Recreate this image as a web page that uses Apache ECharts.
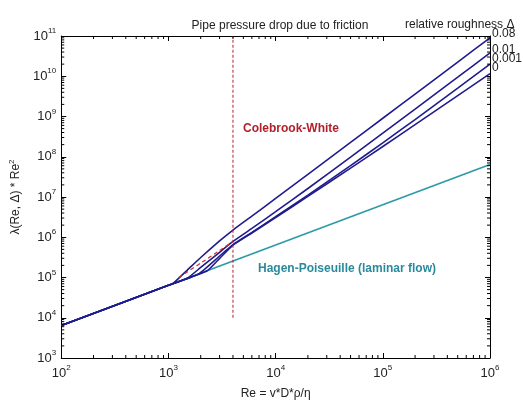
<!DOCTYPE html>
<html>
<head>
<meta charset="utf-8">
<script src="https://cdn.jsdelivr.net/npm/echarts@6/dist/echarts.min.js"></script>
<style>
  html, body { margin: 0; padding: 0; background: #fff; }
  #chart { width: 523px; height: 405px; }
</style>
</head>
<body>
<div id="chart"></div>
<script>
// Reynolds numbers and lambda*Re^2 values for each relative roughness
const laminarRe = [100, 1e6];
const laminarVal = [6.4e3, 6.4e7];

const re008 = [100, 1000, 1100, 1500, 2000, 3000, 4000, 6000, 1e4, 2e4, 5e4, 1e5, 2e5, 5e5, 1e6];
const val008 = [6.4e3, 6.4e4, 7.04e4, 1.53e5, 3.14e5, 8.1e5, 1.513e6, 3.353e6, 9.2e6, 3.643e7, 2.263e8, 9.04e8, 3.61e9, 2.255e10, 9.02e10];

const re001 = [100, 1000, 1500, 2000, 3000, 4000, 6000, 1e4, 2e4, 5e4, 1e5, 2e5, 5e5, 1e6];
const val001 = [6.4e3, 6.4e4, 9.6e4, 1.78e5, 4.23e5, 7.86e5, 1.654e6, 4.31e6, 1.628e7, 9.77e7, 3.85e8, 1.528e9, 9.51e9, 3.8e10];

const re0001 = [100, 1000, 1900, 3000, 4000, 6000, 1e4, 2e4, 5e4, 1e5, 2e5, 5e5, 1e6];
const val0001 = [6.4e3, 6.4e4, 1.216e5, 3.42e5, 6.55e5, 1.32e6, 3.24e6, 1.118e7, 6.0e7, 2.217e8, 8.41e8, 5.06e9, 1.994e10];

const reSmooth = [100, 1000, 2300, 3000, 4000, 6000, 1e4, 2e4, 5e4, 1e5, 2e5, 5e5, 1e6];
const valSmooth = [6.4e3, 6.4e4, 1.472e5, 2.98e5, 6.38e5, 1.278e6, 3.09e6, 1.035e7, 5.22e7, 1.8e8, 6.26e8, 3.29e9, 1.165e10];

// Colebrook-White continued into the transition range
const reCw = [1250, 1500, 2000, 3000, 4000];
const valCw = [1.006e5, 1.378e5, 2.27e5, 4.67e5, 7.86e5];

// critical Reynolds number marker
const reCrit = [4000, 4000];
const valCrit = [1e4, 1e11];

const roughnessNames = ['0.08', '0.01', '0.001', '0'];
const labelOffsets = [-4, -3, -5, -6];

const xMin = 1e2, xMax = 1e6, yMin = 1e3, yMax = 1e11;

function pairs(xs, ys) { return xs.map((x, i) => [x, ys[i]]); }

// minor tick positions (2..9 within each decade)
function minorTicks(lo, hi) {
  const out = [];
  for (let d = lo; d < hi; d *= 10) {
    for (let m = 2; m <= 9; m++) out.push(m * d);
  }
  return out;
}
const xMinor = minorTicks(xMin, xMax);
const yMinor = minorTicks(yMin, yMax);

const font = 'Liberation Sans, Arial, sans-serif';
const textColor = '#222';
const blue = '#1f1c8e';

function powLabel(v) {
  const e = Math.round(Math.log10(v));
  return '{b|10}{s|' + e + '}';
}
const powRich = {
  b: { fontSize: 13, fontFamily: font, color: textColor, lineHeight: 18 },
  s: { fontSize: 8, fontFamily: font, color: textColor, lineHeight: 10, verticalAlign: 'top' }
};

const chart = echarts.init(document.getElementById('chart'), null, { renderer: 'canvas' });

const blueSets = [[re008, val008], [re001, val001], [re0001, val0001], [reSmooth, valSmooth]];

const blueSeries = blueSets.map((s, i) => ({
  name: roughnessNames[i],
  type: 'line',
  data: pairs(s[0], s[1]),
  showSymbol: false,
  symbol: 'none',
  smooth: 0.15,
  lineStyle: { color: blue, width: 1.6 },
  z: 4,
  endLabel: {
    show: true,
    formatter: '{a}',
    color: textColor,
    fontFamily: font,
    fontSize: 12,
    distance: 2,
    offset: [0, labelOffsets[i]]
  },
  silent: true
}));

const option = {
  animation: false,
  backgroundColor: '#fff',
  grid: { left: 61, right: 33, top: 36, bottom: 41 },
  xAxis: [
    {
      type: 'log', logBase: 10, min: xMin, max: xMax,
      name: 'Re = v*D*\u03c1/\u03b7', nameLocation: 'middle', nameGap: 30,
      nameTextStyle: { fontFamily: font, fontSize: 12, color: textColor },
      axisLine: { lineStyle: { color: '#000', width: 1 } },
      axisTick: { inside: true, length: 5, lineStyle: { color: '#000' } },
      axisLabel: { formatter: powLabel, rich: powRich, margin: 6 },
      splitLine: { show: false }
    },
    {
      type: 'log', logBase: 10, min: xMin, max: xMax, position: 'top',
      axisLine: { lineStyle: { color: '#000', width: 1 } },
      axisTick: { inside: true, length: 5, lineStyle: { color: '#000' } },
      axisLabel: { show: false },
      splitLine: { show: false }
    }
  ],
  yAxis: [
    {
      type: 'log', logBase: 10, min: yMin, max: yMax,
      name: '{t|\u03bb(Re, \u0394) * Re}{s|2}', nameLocation: 'middle', nameGap: 28,
      nameRotate: 90,
      nameTextStyle: {
        rich: {
          t: { fontFamily: font, fontSize: 12, color: textColor, lineHeight: 16 },
          s: { fontFamily: font, fontSize: 8, color: textColor, lineHeight: 10, verticalAlign: 'top' }
        }
      },
      axisLine: { lineStyle: { color: '#000', width: 1 } },
      axisTick: { inside: true, length: 5, lineStyle: { color: '#000' } },
      axisLabel: { formatter: powLabel, rich: powRich, margin: 5 },
      splitLine: { show: false }
    },
    {
      type: 'log', logBase: 10, min: yMin, max: yMax, position: 'right',
      axisLine: { lineStyle: { color: '#000', width: 1 } },
      axisTick: { inside: true, length: 5, lineStyle: { color: '#000' } },
      axisLabel: { show: false },
      splitLine: { show: false }
    }
  ],
  title: [
    {
      text: 'Pipe pressure drop due to friction',
      left: 275, top: 15, textAlign: 'center',
      textStyle: { fontFamily: font, fontSize: 12, fontWeight: 'normal', color: textColor }
    },
    {
      text: 'relative roughness \u0394',
      left: 400, top: 14,
      textStyle: { fontFamily: font, fontSize: 12, fontWeight: 'normal', color: textColor }
    }
  ],
  graphic: [
    {
      type: 'text', left: 243, top: 123, silent: true,
      style: { text: 'Colebrook-White', fill: '#b3202c', font: 'bold 12px ' + font }
    },
    {
      type: 'text', left: 258, top: 263, silent: true,
      style: { text: 'Hagen-Poiseuille (laminar flow)', fill: '#2a8a9c', font: 'bold 12px ' + font }
    }
  ],
  series: [
    {
      name: 'laminar', type: 'line', data: pairs(laminarRe, laminarVal),
      showSymbol: false, symbol: 'none', silent: true, z: 3,
      lineStyle: { color: '#2b9aa6', width: 1.6 }
    },
    ...blueSeries,
    {
      name: 'cw-transition', type: 'line', data: pairs(reCw, valCw),
      showSymbol: false, symbol: 'none', silent: true, z: 5, smooth: 0.15,
      lineStyle: { color: '#c8323a', width: 1.2, type: [4, 3] }
    },
    {
      name: 'critical', type: 'line', data: pairs(reCrit, valCrit),
      showSymbol: false, symbol: 'none', silent: true, z: 5,
      lineStyle: { color: '#b02030', width: 1, type: [3, 2] }
    },
    {
      name: 'x-minor', type: 'custom', silent: true, z: 6,
      data: xMinor.map(v => [v, yMin]),
      renderItem: function (params, api) {
        const v = api.value(0);
        const b = api.coord([v, yMin]);
        const t = api.coord([v, yMax]);
        return {
          type: 'group',
          children: [
            { type: 'line', shape: { x1: b[0], y1: b[1], x2: b[0], y2: b[1] - 3 }, style: { stroke: '#000', lineWidth: 1 } },
            { type: 'line', shape: { x1: t[0], y1: t[1], x2: t[0], y2: t[1] + 3 }, style: { stroke: '#000', lineWidth: 1 } }
          ]
        };
      }
    },
    {
      name: 'y-minor', type: 'custom', silent: true, z: 6,
      data: yMinor.map(v => [xMin, v]),
      renderItem: function (params, api) {
        const v = api.value(1);
        const l = api.coord([xMin, v]);
        const r = api.coord([xMax, v]);
        return {
          type: 'group',
          children: [
            { type: 'line', shape: { x1: l[0], y1: l[1], x2: l[0] + 3, y2: l[1] }, style: { stroke: '#000', lineWidth: 1 } },
            { type: 'line', shape: { x1: r[0], y1: r[1], x2: r[0] - 3, y2: r[1] }, style: { stroke: '#000', lineWidth: 1 } }
          ]
        };
      }
    }
  ]
};

chart.setOption(option);
</script>
</body>
</html>
